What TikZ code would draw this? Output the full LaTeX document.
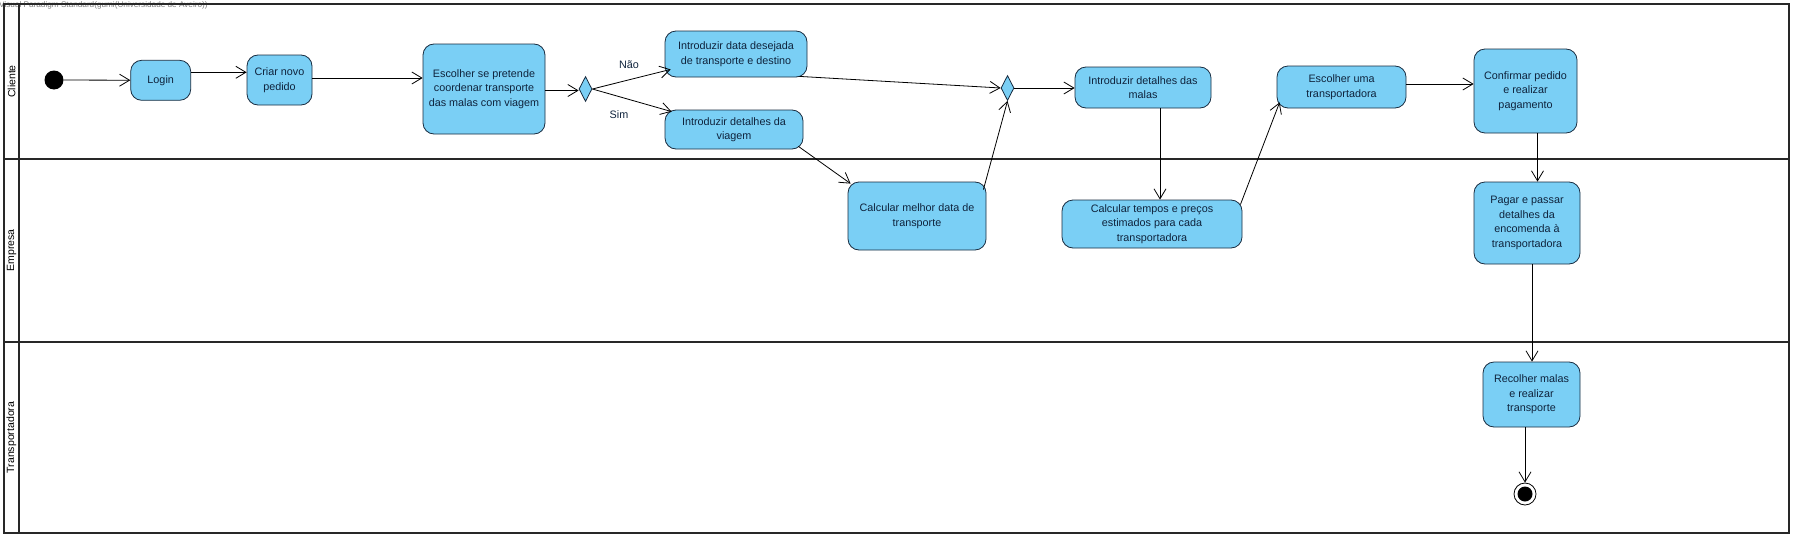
\documentclass[tikz,border=0pt]{standalone}
\usepackage{fontspec}
\setmainfont{Liberation Sans}
\usetikzlibrary{arrows.meta,shapes.geometric,calc}
\definecolor{actfill}{RGB}{122,207,245}
\definecolor{actdraw}{RGB}{25,45,65}
\definecolor{acttext}{RGB}{15,35,60}
\definecolor{lanecol}{RGB}{40,40,40}
\definecolor{wmark}{RGB}{125,125,125}
\begin{document}
\begin{tikzpicture}[x=1pt,y=-1pt,
  act/.style={draw=actdraw, fill=actfill, rounded corners=11pt, line width=0.8pt,
    align=center, font=\fontsize{10.8}{14.5}\selectfont, text=acttext, inner sep=0pt},
  dec/.style={diamond, draw=actdraw, fill=actfill, line width=0.8pt, inner sep=0pt,
    minimum width=13pt, minimum height=25pt},
  arr/.style={-{Straight Barb[length=10pt,width=12pt]}, line width=0.8pt, draw=black},
  lane/.style={draw=lanecol, line width=2pt},
  lanelabel/.style={rotate=90, font=\fontsize{10.5}{12}\selectfont, text=black, inner sep=0pt},
  lbl/.style={font=\fontsize{10.8}{12}\selectfont, text=acttext, inner sep=0pt}
]
\useasboundingbox (0,0) rectangle (1793,538);
\fill[white] (0,0) rectangle (1793,538);

% watermark
\node[anchor=base west, inner sep=0pt, font=\fontsize{8.2}{9}\selectfont, text=wmark] (wm) at (-1,8) {Visual Paradigm Standard(gumi(Universidade de Aveiro))};

% swimlanes
\draw[lane] (4,4) rectangle (1789,533);
\draw[lane] (19,4) -- (19,533);
\draw[lane] (4,159) -- (1789,159);
\draw[lane] (4,342) -- (1789,342);
\node[lanelabel] (lcli) at (11.5,81.5) {Cliente};
\node[lanelabel] (lemp) at (11.5,250.5) {Empresa};
\node[lanelabel] (ltra) at (11.5,437.5) {Transportadora};

% nodes
\node[circle, fill=black, minimum size=19pt, inner sep=0pt] (start) at (54,80) {};
\node[act, minimum width=60pt, minimum height=40pt] (login) at (160.7,80.3) {Login};
\node[act, minimum width=65pt, minimum height=50pt] (criar) at (279.5,80) {Criar novo\\pedido};
\node[act, minimum width=122pt, minimum height=90pt] (escolher) at (484,89) {Escolher se pretende\\coordenar transporte\\das malas com viagem};
\node[dec] (d1) at (585.5,89) {};
\node[act, minimum width=142pt, minimum height=46pt] (data) at (736,54) {Introduzir data desejada\\de transporte e destino};
\node[act, minimum width=138pt, minimum height=39pt] (viagem) at (734,129.5) {Introduzir detalhes da\\viagem};
\node[act, minimum width=138pt, minimum height=68pt] (calc1) at (917,216) {Calcular melhor data de\\transporte};
\node[dec] (d2) at (1007.5,88) {};
\node[act, minimum width=136pt, minimum height=41pt] (malas) at (1143,87.5) {Introduzir detalhes das\\malas};
\node[act, minimum width=180pt, minimum height=48pt] (tempos) at (1152,224) {Calcular tempos e preços\\estimados para cada\\transportadora};
\node[act, minimum width=129pt, minimum height=42pt] (escuma) at (1341.5,87) {Escolher uma\\transportadora};
\node[act, minimum width=103pt, minimum height=84pt] (confirmar) at (1525.5,91) {Confirmar pedido\\e realizar\\pagamento};
\node[act, minimum width=106pt, minimum height=82pt] (pagar) at (1527,223) {Pagar e passar\\detalhes da\\encomenda à\\transportadora};
\node[act, minimum width=97pt, minimum height=65pt] (recolher) at (1531.5,394.5) {Recolher malas\\e realizar\\transporte};
\node[circle, draw=black, fill=white, line width=0.8pt, minimum size=22pt, inner sep=0pt] (endnode) at (1525,494) {};
\node[circle, fill=black, minimum size=15pt, inner sep=0pt] (endin) at (endnode) {};

% labels
\node[lbl] (lnao) at (629,65) {Não};
\node[lbl] (lsim) at (619,115) {Sim};

% connectors
\draw[arr] (start) -- (login);
\draw[arr] ([yshift=8pt]login.east) -- ([yshift=8pt]login.east -| criar.west);
\draw[arr] ([yshift=2pt]criar.east) -- ([yshift=2pt]criar.east -| escolher.west);
\draw[arr] ([yshift=-1.5pt]escolher.east) -- ([yshift=-1.5pt]escolher.east -| d1.west);
\draw[arr] (d1.east) -- ([xshift=6pt,yshift=8pt]data.south west);
\draw[arr] (d1.east) -- ([xshift=7pt,yshift=-2pt]viagem.north west);
\draw[arr] ([xshift=-8pt,yshift=1pt]data.south east) -- (d2.west);
\draw[arr] ([xshift=-5pt,yshift=3pt]viagem.south east) -- ([xshift=3pt,yshift=-2pt]calc1.north west);
\draw[arr] ([xshift=-3pt,yshift=-8pt]calc1.north east) -- (d2.south);
\draw[arr] (d2.east) -- (d2.east -| malas.west);
\draw[arr] ([xshift=17pt]malas.south) -- ([xshift=17pt]malas.south |- tempos.north);
\draw[arr] ([xshift=-2pt,yshift=-5pt]tempos.north east) -- ([xshift=3pt,yshift=6pt]escuma.south west);
\draw[arr] ([yshift=3pt]escuma.east) -- ([yshift=3pt]escuma.east -| confirmar.west);
\draw[arr] ([xshift=12pt]confirmar.south) -- ([xshift=12pt]confirmar.south |- pagar.north);
\draw[arr] ([xshift=5pt]pagar.south) -- ([xshift=5pt]pagar.south |- recolher.north);
\draw[arr] (recolher.south -| endnode) -- (endnode.north);
\end{tikzpicture}
\end{document}
